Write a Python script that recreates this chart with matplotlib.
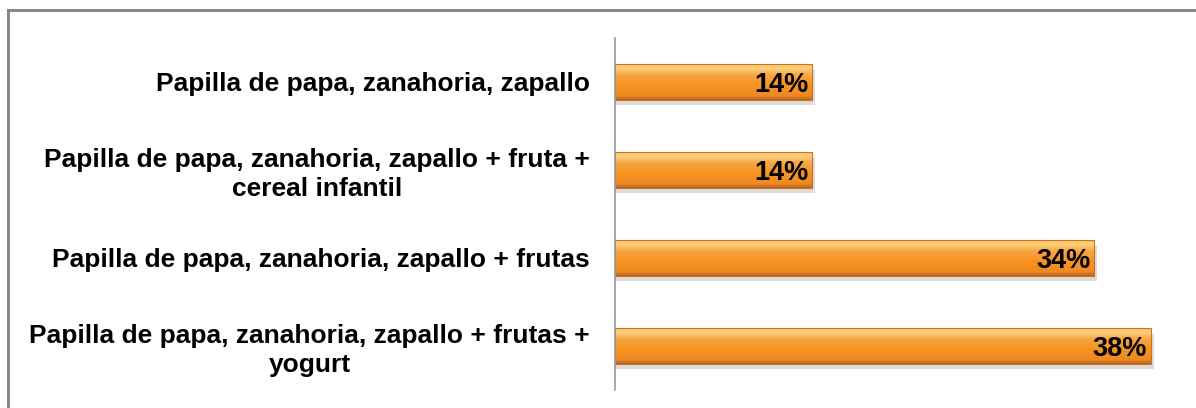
import matplotlib
matplotlib.use("Agg")
import matplotlib.pyplot as plt
import numpy as np
from matplotlib.patches import Rectangle
from matplotlib.colors import LinearSegmentedColormap

categories = [
    "Papilla de papa, zanahoria, zapallo",
    "Papilla de papa, zanahoria, zapallo + fruta +\ncereal infantil",
    "Papilla de papa, zanahoria, zapallo + frutas",
    "Papilla de papa, zanahoria, zapallo + frutas +\nyogurt",
]
values = [14, 14, 34, 38]
value_labels = ["14%", "14%", "34%", "38%"]

plt.rcParams['font.family'] = ['Liberation Sans', 'DejaVu Sans']

W, H = 1196, 408
fig = plt.figure(figsize=(W / 100, H / 100), dpi=100)
fig.patch.set_facecolor("white")

# outer frame
fig.patches.append(Rectangle((8 / W, 0 - 0.01), 1.1, 1 - 10 / H + 0.01,
                             transform=fig.transFigure, fill=False,
                             edgecolor="#888888", linewidth=2.2))

ax = fig.add_axes([615 / W, 1 - 390 / H, (1179 - 615) / W, (390 - 38) / H])
ypos = list(range(len(categories)))
bh = 0.40

cmap = LinearSegmentedColormap.from_list(
    "bar", [(0.0, "#FCC466"), (0.12, "#FDD27A"), (0.3, "#F9A445"),
            (0.6, "#F7931E"), (0.88, "#EE8A22"), (1.0, "#B8661E")])
grad = np.linspace(0, 1, 64).reshape(-1, 1)

# shadow
ax.barh([y + 0.06 for y in ypos], [v + 0.2 for v in values], height=bh,
        color="#dcdcdc", edgecolor="none", zorder=1)
for y, v in zip(ypos, values):
    ax.imshow(grad, cmap=cmap, aspect="auto", interpolation="bilinear",
              extent=(0, v, y + bh / 2, y - bh / 2), zorder=2)
# outline
ax.barh(ypos, values, height=bh, fill=False, edgecolor="#C87424",
        linewidth=0.8, zorder=3)

for y, v, t in zip(ypos, values, value_labels):
    ax.text(v - 0.3, y + 0.03, t, ha="right", va="center", fontsize=19.5,
            fontweight="bold", color="black", zorder=5)

ax.set_xlim(0, 40)
ax.set_ylim(len(categories) - 0.5, -0.5)
ax.set_yticks(ypos)
ax.set_yticklabels(categories, fontsize=19, fontweight="bold",
                   multialignment="center", linespacing=1.25)
ax.tick_params(axis="y", length=0, pad=18)
ax.set_xticks([])
for s in ["top", "right", "bottom"]:
    ax.spines[s].set_visible(False)
ax.spines["left"].set_color("#999999")
ax.spines["left"].set_linewidth(1.2)
ax.spines["left"].set_zorder(6)
ax.set_facecolor("none")

fig.savefig("out.png", dpi=100, facecolor="white")
